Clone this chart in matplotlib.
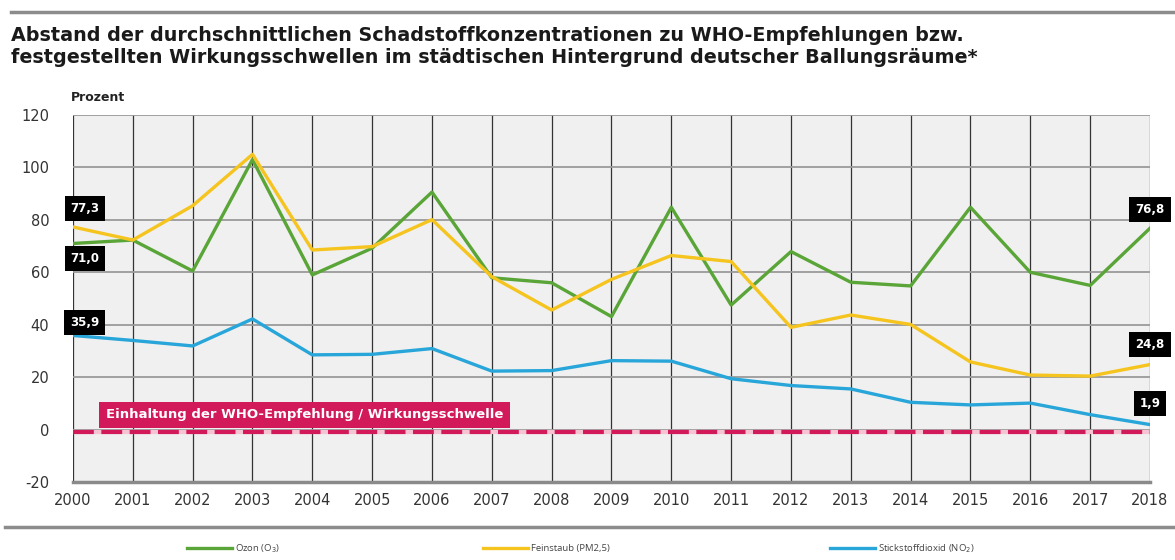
import matplotlib
matplotlib.use("Agg")
import matplotlib.pyplot as plt
from matplotlib.lines import Line2D

years = list(range(2000, 2019))
ozon = [71.0, 72.3, 60.5, 103.0, 59.0, 69.2, 90.6, 57.9, 56.0, 43.1, 84.8, 47.5,
        67.9, 56.2, 54.8, 84.8, 60.0, 55.0, 76.8]
feinstaub = [77.3, 72.3, 85.4, 105.0, 68.5, 69.8, 80.1, 58.3, 45.6, 57.3, 66.4, 64.1,
             39.0, 43.7, 40.1, 25.8, 20.8, 20.4, 24.8]
no2 = [35.9, 34.0, 31.9, 42.2, 28.5, 28.7, 30.9, 22.3, 22.5, 26.3, 26.1, 19.4,
       16.8, 15.5, 10.4, 9.4, 10.1, 5.7, 1.9]

series_labels = ["Ozon (O$_3$)", "Feinstaub (PM2,5)", "Stickstoffdioxid (NO$_2$)"]
colors = ["#5aa537", "#f5c41e", "#29a6d9"]
magenta = "#d2195a"

title = ("Abstand der durchschnittlichen Schadstoffkonzentrationen zu WHO-Empfehlungen bzw.\n"
         "festgestellten Wirkungsschwellen im städtischen Hintergrund deutscher Ballungsräume*")

plt.rcParams['font.family'] = ['DejaVu Sans']
plt.rcParams['axes.unicode_minus'] = False

fig = plt.figure(figsize=(11.75, 5.6), dpi=100)
ax = fig.add_axes([0.0621, 0.1393, 0.9166, 0.6553])
ax.set_facecolor("#f0f0f0")

lines = []
for vals, c, lab in zip([ozon, feinstaub, no2], colors, series_labels):
    l, = ax.plot(years, vals, color=c, lw=2.4, label=lab, zorder=4)
    lines.append(l)

# Schwelle
ax.axhline(-1, color="#f6c3d2", lw=3, zorder=3)
ax.axhline(-1, color=magenta, lw=3, dashes=(5, 1.8), zorder=3)
ax.text(2000.55, 5.6, "Einhaltung der WHO-Empfehlung / Wirkungsschwelle", color="white",
        fontsize=9.5, fontweight='bold', va='center', ha='left', zorder=5,
        bbox=dict(boxstyle='square,pad=0.5', fc=magenta, ec='none'))

# Wertekästchen
box = dict(boxstyle='square,pad=0.5', fc='black', ec='none')
labels = [(2000.2, 84.2, feinstaub[0]), (2000.2, 65.3, ozon[0]), (2000.2, 41.0, no2[0]),
          (2018.0, 84.0, ozon[-1]), (2018.0, 32.6, feinstaub[-1]), (2018.0, 9.8, no2[-1])]
for x, y, v in labels:
    ax.text(x, y, f"{v:.1f}".replace(".", ","), color='white', fontsize=8.5,
            fontweight='bold', ha='center', va='center', bbox=box, zorder=6)

ax.set_xlim(2000, 2018)
ax.set_ylim(-20, 120)
ax.set_xticks(years)
ax.set_yticks(range(-20, 121, 20))
ax.grid(axis='y', color='#9a9a9a', lw=1.3, zorder=1)
ax.grid(axis='x', color='#333333', lw=0.9, zorder=1)
ax.set_axisbelow(True)
for s in ['top', 'right', 'left']:
    ax.spines[s].set_visible(False)
ax.spines['bottom'].set_color('#8a8a8a')
ax.spines['bottom'].set_linewidth(2.5)
ax.tick_params(axis='both', length=0, labelsize=10.5, colors='#333333')
ax.tick_params(axis='y', pad=17)
ax.tick_params(axis='x', pad=8)

ax.text(-0.002, 1.048, "Prozent", transform=ax.transAxes, fontsize=9,
        fontweight='bold', ha='left', va='center', color='#222222')

fig.text(0.009, 0.917, title, fontsize=13.8, fontweight='bold', ha='left',
         va='center', linespacing=1.15, color='#1a1a1a')

fig.add_artist(Line2D([0.009, 1.0], [0.978, 0.978], color='#8c8c8c', lw=2.5))
fig.add_artist(Line2D([0.004, 1.0], [0.059, 0.059], color='#8c8c8c', lw=2.5))

for l, xpos in zip(lines, [0.159, 0.411, 0.706]):
    fig.legend(handles=[l], loc='center left', bbox_to_anchor=(xpos, 0.02),
               frameon=False, handlelength=4.8, handletextpad=0.3,
               borderpad=0, borderaxespad=0, labelcolor='#444444',
               prop={'family': 'Open Sans', 'size': 6.8})

fig.savefig("out.png", dpi=100)
